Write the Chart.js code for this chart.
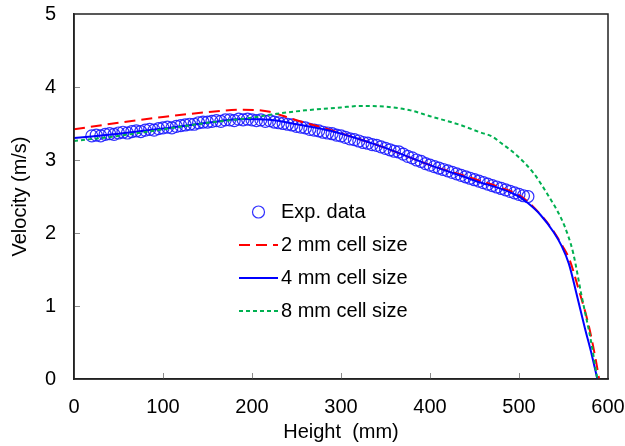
<!DOCTYPE html>
<html>
<head>
<meta charset="utf-8">
<script src="https://cdn.jsdelivr.net/npm/chart.js@4.4.1/dist/chart.umd.min.js"></script>
<style>
  html, body { margin: 0; padding: 0; background: #fff; }
  #wrap { width: 625px; height: 446px; }
</style>
</head>
<body>
<div id="wrap"><canvas id="velocityChart" width="625" height="446"></canvas></div>
<script>
// ---- data ----
const heightExp = [20, 25, 30, 35, 40, 45, 50, 55, 60, 65, 70, 75, 80, 85, 90, 95, 100, 105, 110, 115,
  120, 125, 130, 135, 140, 145, 150, 155, 160, 165, 170, 175, 180, 185, 190, 195, 200, 205, 210, 215,
  220, 225, 230, 235, 240, 245, 250, 255, 260, 265, 270, 275, 280, 285, 290, 295, 300, 305, 310, 315,
  320, 325, 330, 335, 340, 345, 350, 355, 360, 365, 370, 375, 380, 385, 390, 395, 400, 405, 410, 415,
  420, 425, 430, 435, 440, 445, 450, 455, 460, 465, 470, 475, 480, 485, 490, 495, 500, 505, 510];
const velExp = [3.33, 3.34, 3.33, 3.35, 3.36, 3.35, 3.37, 3.38, 3.37, 3.39, 3.40, 3.39, 3.41, 3.42, 3.41, 3.43, 3.44, 3.45, 3.44, 3.46,
  3.47, 3.48, 3.49, 3.49, 3.51, 3.52, 3.52, 3.53, 3.54, 3.53, 3.55, 3.55, 3.54, 3.56, 3.55, 3.56, 3.55, 3.54, 3.55, 3.53,
  3.54, 3.52, 3.51, 3.50, 3.49, 3.48, 3.46, 3.45, 3.44, 3.42, 3.41, 3.40, 3.38, 3.37, 3.36, 3.34, 3.33, 3.31, 3.29, 3.28,
  3.26, 3.24, 3.23, 3.21, 3.20, 3.18, 3.16, 3.14, 3.12, 3.11, 3.08, 3.05, 3.03, 3.00, 2.98, 2.95, 2.93, 2.91, 2.89, 2.87,
  2.85, 2.83, 2.81, 2.79, 2.77, 2.75, 2.73, 2.71, 2.69, 2.67, 2.65, 2.63, 2.61, 2.59, 2.57, 2.55, 2.53, 2.51, 2.50];

const height2mm = [0, 50, 100, 145, 190, 220, 243, 288, 344, 400, 450, 480, 500, 509, 528, 539, 549, 557, 566, 578, 586, 590];
const vel2mm = [3.42, 3.51, 3.59, 3.65, 3.69, 3.66, 3.57, 3.41, 3.19, 2.93, 2.74, 2.62, 2.52, 2.44, 2.20, 2.02, 1.82, 1.63, 1.27, 0.75, 0.28, 0.0];

const height4mm = [0, 50, 100, 150, 190, 220, 250, 288, 344, 400, 450, 500, 510, 524, 539, 548, 556, 564, 574, 582, 588];
const vel4mm = [3.30, 3.36, 3.43, 3.51, 3.56, 3.55, 3.49, 3.40, 3.19, 2.93, 2.72, 2.50, 2.41, 2.25, 2.01, 1.82, 1.58, 1.20, 0.70, 0.32, 0.0];

const height8mm = [0, 50, 100, 150, 200, 220, 260, 300, 321, 350, 378, 400, 434, 456, 470, 479, 497, 517, 532, 547, 555, 561, 570, 581, 588];
const vel8mm = [3.26, 3.33, 3.42, 3.51, 3.58, 3.62, 3.68, 3.72, 3.74, 3.73, 3.68, 3.60, 3.48, 3.38, 3.32, 3.24, 3.07, 2.81, 2.53, 2.21, 1.97, 1.72, 1.16, 0.51, 0.0];

const xTicks = [0, 100, 200, 300, 400, 500, 600];
const yTicks = [0, 1, 2, 3, 4, 5];
const seriesNames = ["Exp. data", "2 mm cell size", "4 mm cell size", "8 mm cell size"];

const FONT = "'Liberation Sans', Arial, sans-serif";

function toPoints(xs, ys) {
  return xs.map((x, i) => ({ x: x, y: ys[i] }));
}

// ---- plugin: inner tick marks + box frame ----
const frameTicks = {
  id: "frameTicks",
  beforeDatasetsDraw(chart) {
    const { ctx, chartArea: a, scales } = chart;
    ctx.save();
    ctx.strokeStyle = "#8c8c8c";
    ctx.lineWidth = 1;
    xTicks.slice(1, -1).forEach(v => {
      const px = Math.round(scales.x.getPixelForValue(v)) + 0.5;
      ctx.beginPath();
      ctx.moveTo(px, a.bottom);
      ctx.lineTo(px, a.bottom - 6);
      ctx.stroke();
    });
    yTicks.slice(1, -1).forEach(v => {
      const py = Math.round(scales.y.getPixelForValue(v)) + 0.5;
      ctx.beginPath();
      ctx.moveTo(a.left, py);
      ctx.lineTo(a.left + 6, py);
      ctx.stroke();
    });
    ctx.restore();
  },
  afterDraw(chart) {
    const { ctx, chartArea: a } = chart;
    ctx.save();
    ctx.strokeStyle = "#222";
    ctx.lineWidth = 1.5;
    ctx.strokeRect(a.left, a.top, a.right - a.left, a.bottom - a.top);
    ctx.restore();
  }
};

// ---- plugin: legend inside the plot ----
const innerLegend = {
  id: "innerLegend",
  afterDraw(chart) {
    const { ctx } = chart;
    const rows = [212, 245, 278, 311];
    const x0 = 239, x1 = 278, tx = 281;
    ctx.save();
    chart.data.datasets.forEach((ds, i) => {
      const y = rows[i];
      if (ds.showLine) {
        ctx.beginPath();
        ctx.strokeStyle = ds.borderColor;
        ctx.lineWidth = ds.borderWidth;
        ctx.setLineDash(ds.borderDash || []);
        ctx.moveTo(x0, y);
        ctx.lineTo(x1, y);
        ctx.stroke();
        ctx.setLineDash([]);
      } else {
        ctx.beginPath();
        ctx.strokeStyle = ds.borderColor;
        ctx.lineWidth = ds.borderWidth;
        ctx.arc((x0 + x1) / 2, y, ds.pointRadius, 0, Math.PI * 2);
        ctx.stroke();
      }
      ctx.fillStyle = "#000";
      ctx.font = "20px " + FONT;
      ctx.textBaseline = "middle";
      ctx.textAlign = "left";
      ctx.fillText(seriesNames[i], tx, y);
    });
    ctx.restore();
  }
};

new Chart(document.getElementById("velocityChart").getContext("2d"), {
  type: "scatter",
  data: {
    datasets: [
      {
        label: seriesNames[0],
        data: toPoints(heightExp, velExp),
        showLine: false,
        pointStyle: "circle",
        pointRadius: 6,
        borderColor: "rgba(25,25,255,0.9)",
        backgroundColor: "rgba(0,0,0,0)",
        borderWidth: 1.2,
        order: 5
      },
      {
        label: seriesNames[1],
        data: toPoints(height2mm, vel2mm),
        showLine: true,
        borderColor: "#ff0000",
        borderWidth: 2,
        borderDash: [11, 6],
        pointRadius: 0,
        cubicInterpolationMode: "monotone",
        order: 2
      },
      {
        label: seriesNames[2],
        data: toPoints(height4mm, vel4mm),
        showLine: true,
        borderColor: "#0000ff",
        borderWidth: 2,
        pointRadius: 0,
        cubicInterpolationMode: "monotone",
        order: 1
      },
      {
        label: seriesNames[3],
        data: toPoints(height8mm, vel8mm),
        showLine: true,
        borderColor: "#00b050",
        borderWidth: 2,
        borderDash: [4, 3],
        pointRadius: 0,
        cubicInterpolationMode: "monotone",
        order: 0
      }
    ]
  },
  options: {
    responsive: false,
    animation: false,
    layout: { padding: { top: 14, right: 17, left: 0, bottom: 0 } },
    plugins: {
      legend: { display: false },
      tooltip: { enabled: false }
    },
    scales: {
      x: {
        type: "linear",
        min: 0,
        max: 600,
        afterFit: s => { s.height = 67; s.paddingLeft = 0; s.paddingRight = 0; },
        afterBuildTicks: s => { s.ticks = xTicks.map(v => ({ value: v })); },
        ticks: { color: "#000", font: { family: FONT, size: 20 }, padding: 16, maxRotation: 0 },
        grid: { display: false, drawTicks: false },
        border: { display: true, color: "#222", width: 1.5 },
        title: { display: true, text: "Height  (mm)", color: "#000", font: { family: FONT, size: 20 }, padding: { top: 0, bottom: 2 } }
      },
      y: {
        type: "linear",
        min: 0,
        max: 5,
        afterFit: s => { s.width = 74; s.paddingTop = 0; s.paddingBottom = 0; },
        afterBuildTicks: s => { s.ticks = yTicks.map(v => ({ value: v })); },
        ticks: { color: "#000", font: { family: FONT, size: 20 }, padding: 18 },
        grid: { display: false, drawTicks: false },
        border: { display: true, color: "#222", width: 1.5 },
        title: { display: true, text: "Velocity (m/s)", color: "#000", font: { family: FONT, size: 20 }, padding: { top: 8, bottom: 0 } }
      }
    }
  },
  plugins: [frameTicks, innerLegend]
});
</script>
</body>
</html>
